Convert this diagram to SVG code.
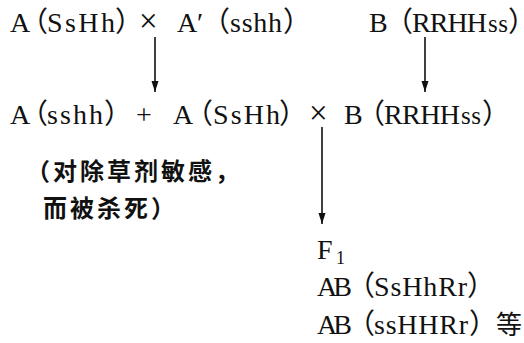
<svg xmlns="http://www.w3.org/2000/svg" width="524" height="343" viewBox="0 0 524 343">
<style>
.t{font-family:"Liberation Serif","Noto Sans CJK SC",serif;font-size:28px;fill:#111111}
.p{font-family:"Noto Sans CJK SC",sans-serif;font-size:28px;font-feature-settings:"palt"}
.s{font-size:25px}
.x{font-size:33px}
.c{font-family:"Noto Sans CJK SC",sans-serif;font-size:24px;font-weight:bold;letter-spacing:3px;fill:#111111}
.k{font-family:"Noto Sans CJK SC",sans-serif;font-size:26px}
.ln{stroke:#111111;stroke-width:1.6;fill:none}
</style>
<defs>
<marker id="ah" markerWidth="12" markerHeight="8" refX="11" refY="3.5" orient="auto" markerUnits="userSpaceOnUse">
<path d="M0,0 L11,3.5 L0,7 z" fill="#111111"/>
</marker>
</defs>
<rect width="524" height="343" fill="#ffffff"/>
<g id="connectors">
<line class="ln" x1="155" y1="37" x2="155" y2="92" marker-end="url(#ah)"/>
<line class="ln" x1="425" y1="37" x2="425" y2="92" marker-end="url(#ah)"/>
<line class="ln" x1="322" y1="127" x2="322" y2="224" marker-end="url(#ah)"/>
</g>
<g id="cross1">
<text class="t" y="32"><tspan x="10">A</tspan><tspan class="p" x="33">（</tspan><tspan x="47" textLength="68">SsHh</tspan><tspan class="p" x="116">）</tspan><tspan class="x" x="139">×</tspan><tspan x="177">A</tspan><tspan x="197">′</tspan><tspan class="p" x="215">（</tspan><tspan x="230" textLength="52">sshh</tspan><tspan class="p" x="284">）</tspan></text>
</g>
<g id="parentB">
<text class="t" y="32"><tspan x="369">B</tspan><tspan class="p" x="398">（</tspan><tspan x="412" textLength="75">RRHH</tspan><tspan class="s" x="488" textLength="20">ss</tspan><tspan class="p" x="509">）</tspan></text>
</g>
<g id="cross2">
<text class="t" y="124"><tspan x="10">A</tspan><tspan class="p" x="33">（</tspan><tspan x="47" textLength="56">sshh</tspan><tspan class="p" x="105">）</tspan><tspan x="136">+</tspan><tspan x="173">A</tspan><tspan class="p" x="198">（</tspan><tspan x="213" textLength="67">SsHh</tspan><tspan class="p" x="280">）</tspan><tspan class="x" x="309">×</tspan><tspan x="344">B</tspan><tspan class="p" x="370">（</tspan><tspan x="384" textLength="76">RRHH</tspan><tspan class="s" x="461" textLength="20">ss</tspan><tspan class="p" x="483">）</tspan></text>
</g>
<g id="note">
<text class="c" x="26" y="180">（对除草剂敏感，</text>
<text class="c" x="43" y="217">而被杀死）</text>
</g>
<g id="f1">
<text class="t" y="259"><tspan x="317">F</tspan><tspan x="336" y="264" font-size="18">1</tspan></text>
<text class="t" y="296"><tspan x="317" textLength="35">AB</tspan><tspan class="p" x="360">（</tspan><tspan x="374" textLength="93">SsHhRr</tspan><tspan class="p" x="468">）</tspan></text>
<text class="t" y="334"><tspan x="317" textLength="35">AB</tspan><tspan class="p" x="360">（</tspan><tspan x="374" textLength="94">ssHHRr</tspan><tspan class="p" x="470">）</tspan><tspan class="k" x="496">等</tspan></text>
</g>
</svg>
